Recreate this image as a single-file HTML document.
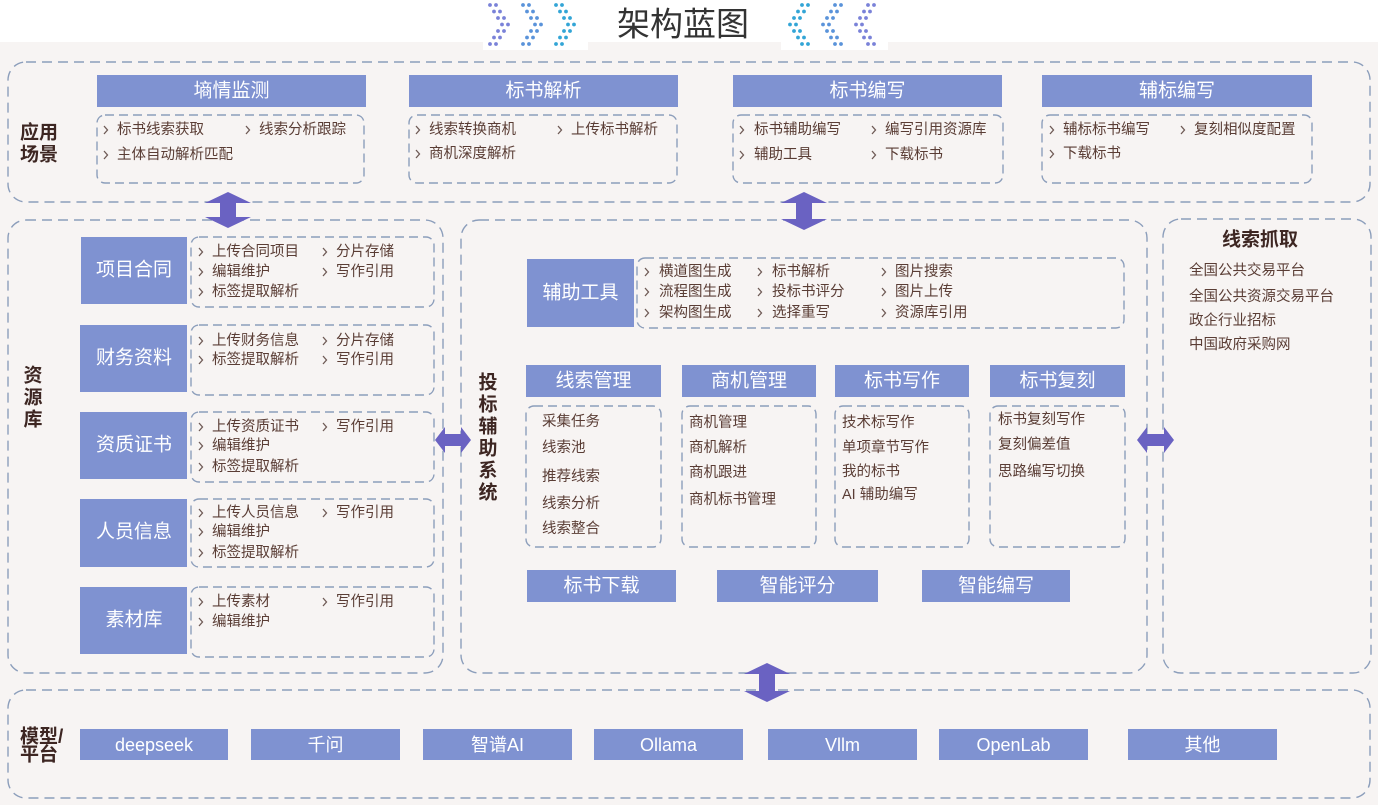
<!DOCTYPE html>
<html>
<head>
<meta charset="utf-8">
<style>
html,body{margin:0;padding:0;background:#f7f4f3;}
body{width:1378px;height:805px;overflow:hidden;}
svg{display:block;font-family:"Liberation Sans","Noto Sans CJK SC",sans-serif;}
.it{font-size:14.5px;fill:#5a3d35;dominant-baseline:central;}
.hd{font-size:19px;fill:#ffffff;text-anchor:middle;dominant-baseline:central;}
.md{font-size:18px;fill:#ffffff;text-anchor:middle;dominant-baseline:central;}
.lb{font-size:19px;font-weight:bold;fill:#3d2622;dominant-baseline:central;}
.ob{fill:none;stroke:#8c9ebb;stroke-width:1.4;stroke-dasharray:10 6;}
.sb{fill:none;stroke:#8c9ebb;stroke-width:1.4;stroke-dasharray:9 5;}
.blk{fill:#7f92d1;}
.ar{fill:#6a62c2;}
</style>
</head>
<body>
<svg width="1378" height="805" viewBox="0 0 1378 805" xmlns="http://www.w3.org/2000/svg">
<defs>
  <path id="c" d="M0,-4 L3.5,0 L0,4" fill="none" stroke="#6e5a55" stroke-width="1.3"/>
  <g id="dr">
    <circle cx="2" cy="3" r="1.9"/><circle cx="8" cy="3" r="1.9"/>
    <circle cx="6" cy="9.5" r="1.9"/><circle cx="12" cy="9.5" r="1.9"/>
    <circle cx="10" cy="16" r="1.9"/><circle cx="16" cy="16" r="1.9"/>
    <circle cx="14" cy="22.5" r="1.9"/><circle cx="20" cy="22.5" r="1.9"/>
    <circle cx="10" cy="29" r="1.9"/><circle cx="16" cy="29" r="1.9"/>
    <circle cx="6" cy="35.5" r="1.9"/><circle cx="12" cy="35.5" r="1.9"/>
    <circle cx="2" cy="42" r="1.9"/><circle cx="8" cy="42" r="1.9"/>
  </g>
</defs>

<!-- background -->
<rect x="0" y="0" width="1378" height="805" fill="#f7f4f3"/>
<rect x="0" y="0" width="1378" height="42" fill="#ffffff"/>
<rect x="483" y="0" width="105" height="50" fill="#ffffff"/>
<rect x="781" y="0" width="107" height="50" fill="#ffffff"/>

<!-- title -->
<g fill="#7a82d8"><use href="#dr" x="488" y="2"/></g>
<g fill="#5a93da"><use href="#dr" x="521" y="2"/></g>
<g fill="#33a5d6"><use href="#dr" x="554" y="2"/></g>
<g fill="#33a5d6" transform="translate(810,2) scale(-1,1)"><use href="#dr"/></g>
<g fill="#5a93da" transform="translate(843,2) scale(-1,1)"><use href="#dr"/></g>
<g fill="#7a82d8" transform="translate(876,2) scale(-1,1)"><use href="#dr"/></g>
<text x="683" y="24" font-size="33" fill="#333333" text-anchor="middle" dominant-baseline="central">架构蓝图</text>

<!-- outer boxes -->
<rect class="ob" x="8" y="62" width="1362" height="140" rx="18"/>
<rect class="ob" x="8" y="220" width="435" height="453" rx="18"/>
<rect class="ob" x="461" y="220" width="686" height="453" rx="18"/>
<rect class="ob" x="1163" y="219" width="208" height="454" rx="18"/>
<rect class="ob" x="8" y="690" width="1362" height="108" rx="18"/>

<!-- ===== 应用场景 ===== -->
<text class="lb" x="20" y="133">应用</text>
<text class="lb" x="20" y="155">场景</text>

<rect class="blk" x="97" y="75" width="269" height="32"/>
<rect class="blk" x="409" y="75" width="269" height="32"/>
<rect class="blk" x="733" y="75" width="269" height="32"/>
<rect class="blk" x="1042" y="75" width="270" height="32"/>
<text class="hd" x="231.5" y="91">墒情监测</text>
<text class="hd" x="543.5" y="91">标书解析</text>
<text class="hd" x="867.5" y="91">标书编写</text>
<text class="hd" x="1177" y="91">辅标编写</text>

<rect class="sb" x="97" y="115" width="267" height="68" rx="8"/>
<rect class="sb" x="409" y="115" width="268" height="68" rx="8"/>
<rect class="sb" x="733" y="115" width="270" height="68" rx="8"/>
<rect class="sb" x="1042" y="115" width="270" height="68" rx="8"/>

<use href="#c" x="104" y="130"/><text class="it" x="117" y="130">标书线索获取</text>
<use href="#c" x="246" y="130"/><text class="it" x="259" y="130">线索分析跟踪</text>
<use href="#c" x="104" y="155"/><text class="it" x="117" y="155">主体自动解析匹配</text>

<use href="#c" x="416" y="130"/><text class="it" x="429" y="130">线索转换商机</text>
<use href="#c" x="558" y="130"/><text class="it" x="571" y="130">上传标书解析</text>
<use href="#c" x="416" y="154"/><text class="it" x="429" y="154">商机深度解析</text>

<use href="#c" x="740" y="130"/><text class="it" x="754" y="130">标书辅助编写</text>
<use href="#c" x="872" y="130"/><text class="it" x="885" y="130">编写引用资源库</text>
<use href="#c" x="740" y="155"/><text class="it" x="754" y="155">辅助工具</text>
<use href="#c" x="872" y="155"/><text class="it" x="885" y="155">下载标书</text>

<use href="#c" x="1050" y="130"/><text class="it" x="1063" y="130">辅标标书编写</text>
<use href="#c" x="1181" y="130"/><text class="it" x="1194" y="130">复刻相似度配置</text>
<use href="#c" x="1050" y="154"/><text class="it" x="1063" y="154">下载标书</text>

<!-- ===== 资源库 ===== -->
<text class="lb" x="33" y="376" text-anchor="middle">资</text>
<text class="lb" x="33" y="398" text-anchor="middle">源</text>
<text class="lb" x="33" y="420" text-anchor="middle">库</text>

<rect class="blk" x="81" y="237" width="106" height="67"/>
<rect class="blk" x="80" y="325" width="107" height="67"/>
<rect class="blk" x="80" y="412" width="107" height="67"/>
<rect class="blk" x="80" y="499" width="107" height="68"/>
<rect class="blk" x="80" y="587" width="107" height="67"/>
<text class="hd" x="134" y="270">项目合同</text>
<text class="hd" x="134" y="358">财务资料</text>
<text class="hd" x="134" y="445">资质证书</text>
<text class="hd" x="134" y="532">人员信息</text>
<text class="hd" x="134" y="620">素材库</text>

<rect class="sb" x="191" y="237" width="243" height="70" rx="8"/>
<rect class="sb" x="191" y="325" width="243" height="70" rx="8"/>
<rect class="sb" x="191" y="412" width="243" height="70" rx="8"/>
<rect class="sb" x="191" y="499" width="243" height="68" rx="8"/>
<rect class="sb" x="191" y="587" width="243" height="70" rx="8"/>

<use href="#c" x="199" y="252"/><text class="it" x="212" y="252">上传合同项目</text>
<use href="#c" x="323" y="252"/><text class="it" x="336" y="252">分片存储</text>
<use href="#c" x="199" y="272"/><text class="it" x="212" y="272">编辑维护</text>
<use href="#c" x="323" y="272"/><text class="it" x="336" y="272">写作引用</text>
<use href="#c" x="199" y="292"/><text class="it" x="212" y="292">标签提取解析</text>

<use href="#c" x="199" y="341"/><text class="it" x="212" y="341">上传财务信息</text>
<use href="#c" x="323" y="341"/><text class="it" x="336" y="341">分片存储</text>
<use href="#c" x="199" y="360"/><text class="it" x="212" y="360">标签提取解析</text>
<use href="#c" x="323" y="360"/><text class="it" x="336" y="360">写作引用</text>

<use href="#c" x="199" y="427"/><text class="it" x="212" y="427">上传资质证书</text>
<use href="#c" x="323" y="427"/><text class="it" x="336" y="427">写作引用</text>
<use href="#c" x="199" y="446"/><text class="it" x="212" y="446">编辑维护</text>
<use href="#c" x="199" y="467"/><text class="it" x="212" y="467">标签提取解析</text>

<use href="#c" x="199" y="513"/><text class="it" x="212" y="513">上传人员信息</text>
<use href="#c" x="323" y="513"/><text class="it" x="336" y="513">写作引用</text>
<use href="#c" x="199" y="532"/><text class="it" x="212" y="532">编辑维护</text>
<use href="#c" x="199" y="553"/><text class="it" x="212" y="553">标签提取解析</text>

<use href="#c" x="199" y="602"/><text class="it" x="212" y="602">上传素材</text>
<use href="#c" x="323" y="602"/><text class="it" x="336" y="602">写作引用</text>
<use href="#c" x="199" y="622"/><text class="it" x="212" y="622">编辑维护</text>

<!-- ===== 投标辅助系统 ===== -->
<text class="lb" x="488" y="383" text-anchor="middle">投</text>
<text class="lb" x="488" y="405" text-anchor="middle">标</text>
<text class="lb" x="488" y="427" text-anchor="middle">辅</text>
<text class="lb" x="488" y="449" text-anchor="middle">助</text>
<text class="lb" x="488" y="471" text-anchor="middle">系</text>
<text class="lb" x="488" y="493" text-anchor="middle">统</text>

<rect class="blk" x="527" y="259" width="107" height="68"/>
<text class="hd" x="580.5" y="293">辅助工具</text>
<rect class="sb" x="637" y="258" width="487" height="70" rx="8"/>

<use href="#c" x="645" y="272"/><text class="it" x="659" y="272">横道图生成</text>
<use href="#c" x="645" y="292"/><text class="it" x="659" y="292">流程图生成</text>
<use href="#c" x="645" y="313"/><text class="it" x="659" y="313">架构图生成</text>
<use href="#c" x="758" y="272"/><text class="it" x="772" y="272">标书解析</text>
<use href="#c" x="758" y="292"/><text class="it" x="772" y="292">投标书评分</text>
<use href="#c" x="758" y="313"/><text class="it" x="772" y="313">选择重写</text>
<use href="#c" x="882" y="272"/><text class="it" x="895" y="272">图片搜索</text>
<use href="#c" x="882" y="292"/><text class="it" x="895" y="292">图片上传</text>
<use href="#c" x="882" y="313"/><text class="it" x="895" y="313">资源库引用</text>

<rect class="blk" x="526" y="365" width="135" height="32"/>
<rect class="blk" x="682" y="365" width="134" height="32"/>
<rect class="blk" x="835" y="365" width="134" height="32"/>
<rect class="blk" x="990" y="365" width="135" height="32"/>
<text class="hd" x="593.5" y="381">线索管理</text>
<text class="hd" x="749" y="381">商机管理</text>
<text class="hd" x="902" y="381">标书写作</text>
<text class="hd" x="1057.5" y="381">标书复刻</text>

<rect class="sb" x="526" y="406" width="135" height="141" rx="8"/>
<rect class="sb" x="682" y="406" width="134" height="141" rx="8"/>
<rect class="sb" x="835" y="406" width="134" height="141" rx="8"/>
<rect class="sb" x="990" y="406" width="135" height="141" rx="8"/>

<text class="it" x="542" y="422">采集任务</text>
<text class="it" x="542" y="448">线索池</text>
<text class="it" x="542" y="477">推荐线索</text>
<text class="it" x="542" y="504">线索分析</text>
<text class="it" x="542" y="529">线索整合</text>

<text class="it" x="689" y="423">商机管理</text>
<text class="it" x="689" y="448">商机解析</text>
<text class="it" x="689" y="473">商机跟进</text>
<text class="it" x="689" y="500">商机标书管理</text>

<text class="it" x="842" y="423">技术标写作</text>
<text class="it" x="842" y="448">单项章节写作</text>
<text class="it" x="842" y="472">我的标书</text>
<text class="it" x="842" y="495">AI 辅助编写</text>

<text class="it" x="998" y="420">标书复刻写作</text>
<text class="it" x="998" y="445">复刻偏差值</text>
<text class="it" x="998" y="472">思路编写切换</text>

<rect class="blk" x="527" y="570" width="149" height="32"/>
<rect class="blk" x="717" y="570" width="161" height="32"/>
<rect class="blk" x="922" y="570" width="148" height="32"/>
<text class="hd" x="601.5" y="586">标书下载</text>
<text class="hd" x="797.5" y="586">智能评分</text>
<text class="hd" x="996" y="586">智能编写</text>

<!-- ===== 线索抓取 ===== -->
<text class="lb" x="1260" y="240" text-anchor="middle" fill="#4a2a25">线索抓取</text>
<text class="it" x="1189" y="271">全国公共交易平台</text>
<text class="it" x="1189" y="297">全国公共资源交易平台</text>
<text class="it" x="1189" y="321">政企行业招标</text>
<text class="it" x="1189" y="345">中国政府采购网</text>

<!-- ===== 模型/平台 ===== -->
<text class="lb" x="20" y="737" font-size="17">模型/</text>
<text class="lb" x="20" y="755" font-size="17">平台</text>

<rect class="blk" x="80" y="729" width="148" height="31"/>
<rect class="blk" x="251" y="729" width="149" height="31"/>
<rect class="blk" x="423" y="729" width="149" height="31"/>
<rect class="blk" x="594" y="729" width="149" height="31"/>
<rect class="blk" x="768" y="729" width="149" height="31"/>
<rect class="blk" x="939" y="729" width="149" height="31"/>
<rect class="blk" x="1128" y="729" width="149" height="31"/>
<text class="md" x="154" y="745">deepseek</text>
<text class="md" x="325.5" y="745">千问</text>
<text class="md" x="497.5" y="745">智谱AI</text>
<text class="md" x="668.5" y="745">Ollama</text>
<text class="md" x="842.5" y="745">Vllm</text>
<text class="md" x="1013.5" y="745">OpenLab</text>
<text class="md" x="1202.5" y="745">其他</text>

<!-- ===== arrows ===== -->
<polygon class="ar" points="228,192 251,203 236,203 236,217 251,217 228,228 205,217 220,217 220,203 205,203"/>
<polygon class="ar" points="804,192 827,203 812,203 812,219 827,219 804,230 781,219 796,219 796,203 781,203"/>
<polygon class="ar" points="767,663 790,674 775,674 775,691 790,691 767,702 744,691 759,691 759,674 744,674"/>
<polygon class="ar" points="435,440 445,427 445,434 461,434 461,427 471,440 461,453 461,446 445,446 445,453"/>
<polygon class="ar" points="1137,440 1147,427 1147,434 1164,434 1164,427 1174,440 1164,453 1164,446 1147,446 1147,453"/>
</svg>
</body>
</html>
